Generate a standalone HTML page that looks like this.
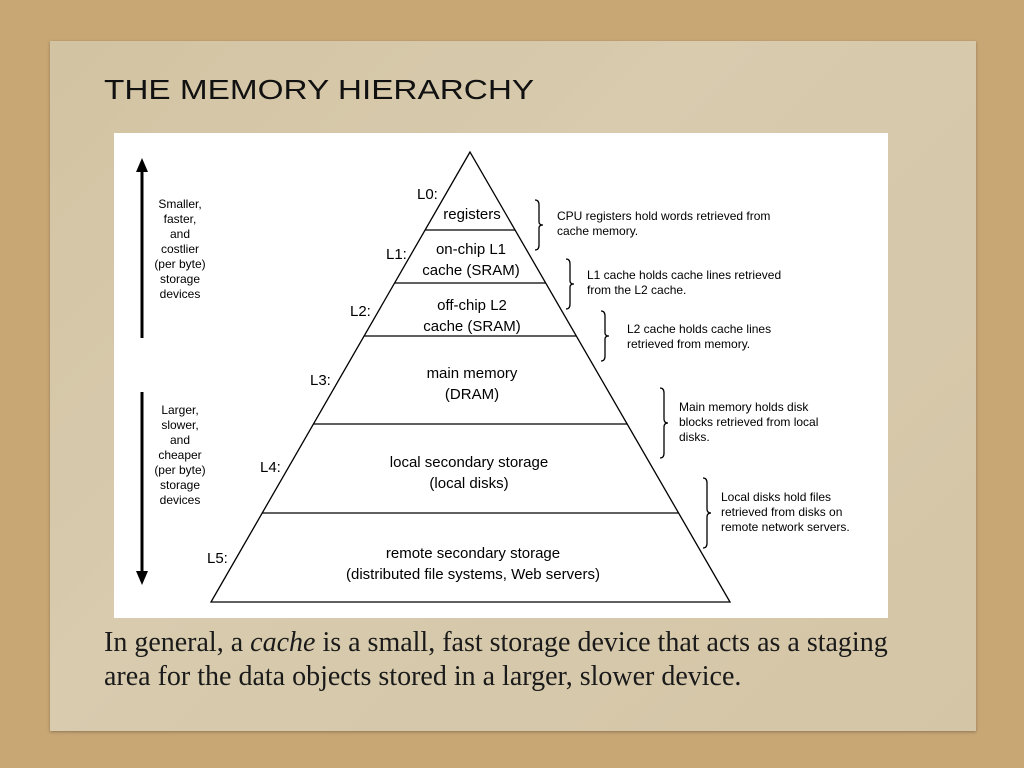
<!DOCTYPE html>
<html><head><style>
body{margin:0;width:1024px;height:768px;background:#c8a775;overflow:hidden;position:relative;font-family:"Liberation Sans",sans-serif}
.paper{position:absolute;left:50px;top:41px;width:926px;height:690px;background:linear-gradient(135deg,#d2c3a2,#d8cbae 40%,#d4c5a6);box-shadow:0 1px 3px rgba(0,0,0,.3)}
.title{position:absolute;left:104px;top:74px;font-size:28px;color:#111;font-family:"Liberation Sans",sans-serif;font-weight:normal;transform:scaleX(1.19);transform-origin:left;white-space:nowrap}
.cap{position:absolute;left:104px;top:626px;font-family:"Liberation Serif",serif;font-size:28px;line-height:34px;color:#1a1a1a;white-space:nowrap}
</style></head><body>
<div class="paper"></div>
<div class="title">THE MEMORY HIERARCHY</div>
<svg style="position:absolute;left:0;top:0" width="1024" height="768">
<rect x="114" y="133" width="774" height="485" fill="#fff"/>
<g stroke="#000" stroke-width="1.3" fill="none">
<path d="M470 152 L211 602 L730 602 Z"/>
<line x1="425" y1="230" x2="515" y2="230"/>
<line x1="395" y1="283" x2="546" y2="283"/>
<line x1="364" y1="336" x2="576" y2="336"/>
<line x1="313" y1="424" x2="627" y2="424"/>
<line x1="262" y1="513" x2="679" y2="513"/>
<path d="M535 200 q4 0 4 5 v17 q0 3 4 3 q-4 0 -4 3 v17 q0 5 -4 5"/>
<path d="M566 259 q4 0 4 5 v17 q0 3 4 3 q-4 0 -4 3 v17 q0 5 -4 5"/>
<path d="M601 311 q4 0 4 5 v17 q0 3 4 3 q-4 0 -4 3 v17 q0 5 -4 5"/>
<path d="M660 388 q4 0 4 5 v26 q0 4 4 4 q-4 0 -4 4 v26 q0 5 -4 5"/>
<path d="M703 478 q4 0 4 5 v26 q0 4 4 4 q-4 0 -4 4 v26 q0 5 -4 5"/>
</g>
<g stroke="#000" stroke-width="3">
<line x1="142" y1="170" x2="142" y2="338"/>
<line x1="142" y1="392" x2="142" y2="575"/>
</g>
<polygon points="142,158 136,172 148,172" fill="#000"/>
<polygon points="142,585 136,571 148,571" fill="#000"/>
<g font-family="Liberation Sans,sans-serif" font-size="12" text-anchor="middle" fill="#000">
<text x="180" y="208">Smaller,</text><text x="180" y="223">faster,</text><text x="180" y="238">and</text><text x="180" y="253">costlier</text><text x="180" y="268">(per byte)</text><text x="180" y="283">storage</text><text x="180" y="298">devices</text>
<text x="180" y="414">Larger,</text><text x="180" y="429">slower,</text><text x="180" y="444">and</text><text x="180" y="459">cheaper</text><text x="180" y="474">(per byte)</text><text x="180" y="489">storage</text><text x="180" y="504">devices</text>
</g>
<g font-family="Liberation Sans,sans-serif" font-size="15" text-anchor="middle" fill="#000">
<text x="472" y="219">registers</text>
<text x="471" y="254">on-chip L1</text><text x="471" y="275">cache (SRAM)</text>
<text x="472" y="310">off-chip L2</text><text x="472" y="331">cache (SRAM)</text>
<text x="472" y="378">main memory</text><text x="472" y="399">(DRAM)</text>
<text x="469" y="467">local secondary storage</text><text x="469" y="488">(local disks)</text>
<text x="473" y="558">remote secondary storage</text><text x="473" y="579">(distributed file systems, Web servers)</text>
</g>
<g font-family="Liberation Sans,sans-serif" font-size="15" fill="#000">
<text x="417" y="199">L0:</text><text x="386" y="259">L1:</text><text x="350" y="316">L2:</text><text x="310" y="385">L3:</text><text x="260" y="472">L4:</text><text x="207" y="563">L5:</text>
</g>
<g font-family="Liberation Sans,sans-serif" font-size="12" fill="#000">
<text x="557" y="220">CPU registers hold words retrieved from</text><text x="557" y="235">cache memory.</text>
<text x="587" y="279">L1 cache holds cache lines retrieved</text><text x="587" y="294">from the L2 cache.</text>
<text x="627" y="333">L2 cache holds cache lines</text><text x="627" y="348">retrieved from memory.</text>
<text x="679" y="411">Main memory holds disk</text><text x="679" y="426">blocks retrieved from local</text><text x="679" y="441">disks.</text>
<text x="721" y="501">Local disks hold files</text><text x="721" y="516">retrieved from disks on</text><text x="721" y="531">remote network servers.</text>
</g>
</svg>
<div class="cap">In general, a <i>cache</i> is a small, fast storage device that acts as a staging<br>area for the data objects stored in a larger, slower device.</div>
</body></html>
